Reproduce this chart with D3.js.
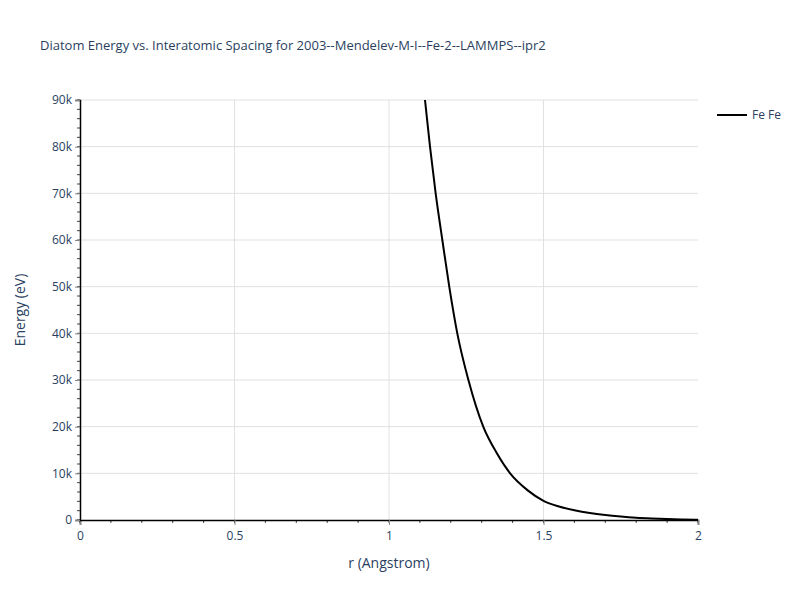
<!DOCTYPE html>
<html>
<head>
<meta charset="utf-8">
<script src="https://cdn.jsdelivr.net/npm/d3@7"></script>
<style>
  body { margin: 0; background: #fff; }
  svg { font-family: "Open Sans", verdana, arial, sans-serif; }
</style>
</head>
<body>
<svg id="main-svg" width="800" height="600"></svg>
<script>
// ----- //
// data
// ----- //
const rValues = [1.10, 1.1165, 1.1327, 1.151, 1.1726, 1.195, 1.221, 1.257, 1.305, 1.35, 1.392, 1.45, 1.50, 1.55, 1.60, 1.65, 1.70, 1.75, 1.80, 1.85, 1.90, 1.95, 2.00];
const energyValues = [100000, 90000, 80000, 70000, 60000, 50000, 40000, 30000, 20000, 14200, 10000, 6300, 4100, 2900, 2100, 1500, 1070, 750, 500, 330, 200, 120, 60];
const xTicks = [0, 0.5, 1, 1.5, 2];
const yTicks = [0, 10000, 20000, 30000, 40000, 50000, 60000, 70000, 80000, 90000];
const seriesName = "Fe Fe";
const chartTitle = "Diatom Energy vs. Interatomic Spacing for 2003--Mendelev-M-I--Fe-2--LAMMPS--ipr2";

// ----- //
// layout
// ----- //
const margin = { left: 80, top: 100, right: 102, bottom: 80 };
const width = 800 - margin.left - margin.right;   // 618
const height = 600 - margin.top - margin.bottom;  // 420
const textColor = "#2a3f5f";
const gridColor = "#e1e1e1";

const svg = d3.select("#main-svg");

const x = d3.scaleLinear().domain([0, 2]).range([0, width]);
const y = d3.scaleLinear().domain([0, 90000]).range([height, 0]);

const g = svg.append("g").attr("transform", `translate(${margin.left},${margin.top})`);

// grid lines
g.append("g").selectAll("line")
    .data(xTicks.filter(d => d > 0 && d < 2))
    .enter().append("line")
    .attr("x1", d => x(d)).attr("x2", d => x(d))
    .attr("y1", 0).attr("y2", height)
    .attr("stroke", gridColor).attr("stroke-width", 1);

g.append("g").selectAll("line")
    .data(yTicks.filter(d => d > 0))
    .enter().append("line")
    .attr("x1", 0).attr("x2", width)
    .attr("y1", d => y(d)).attr("y2", d => y(d))
    .attr("stroke", gridColor).attr("stroke-width", 1);

// clip for the curve
svg.append("defs").append("clipPath").attr("id", "plot-clip")
    .append("rect").attr("width", width).attr("height", height);

const line = d3.line()
    .x((d, i) => x(rValues[i]))
    .y(d => y(d))
    .curve(d3.curveMonotoneX);

g.append("path")
    .datum(energyValues)
    .attr("clip-path", "url(#plot-clip)")
    .attr("fill", "none")
    .attr("stroke", "#000")
    .attr("stroke-width", 2)
    .attr("stroke-linejoin", "round")
    .attr("d", line);

// minor ticks
g.append("g").selectAll("line")
    .data(d3.range(0, 2.0001, 0.1))
    .enter().append("line")
    .attr("x1", d => x(d)).attr("x2", d => x(d))
    .attr("y1", height).attr("y2", height + 3)
    .attr("stroke", "#444");

g.append("g").selectAll("line")
    .data(d3.range(0, 90001, 2000))
    .enter().append("line")
    .attr("x1", -3).attr("x2", 0)
    .attr("y1", d => y(d)).attr("y2", d => y(d))
    .attr("stroke", "#444");

// axes
const xAxis = g.append("g")
    .attr("transform", `translate(0,${height})`)
    .call(d3.axisBottom(x).tickValues(xTicks).tickSize(5).tickPadding(6)
        .tickFormat(d => d3.format("~g")(d)));

const yAxis = g.append("g")
    .call(d3.axisLeft(y).tickValues(yTicks).tickSize(5).tickPadding(3)
        .tickFormat(d => d === 0 ? "0" : (d / 1000) + "k"));

[xAxis, yAxis].forEach(ax => {
    ax.select(".domain").attr("stroke", "#000").attr("stroke-width", 1.5);
    ax.selectAll(".tick line").attr("stroke", "#888");
    ax.selectAll(".tick text")
        .attr("fill", textColor)
        .style("font-size", "12px")
        .style("font-family", "\"Open Sans\", verdana, arial, sans-serif");
});

// title
svg.append("text")
    .attr("x", 40).attr("y", 50)
    .attr("fill", textColor)
    .style("font-size", "13px")
    .text(chartTitle);

// axis titles
svg.append("text")
    .attr("x", margin.left + width / 2).attr("y", 568)
    .attr("text-anchor", "middle")
    .attr("fill", textColor)
    .style("font-size", "14px")
    .text("r (Angstrom)");

svg.append("text")
    .attr("transform", `translate(25,${margin.top + height / 2}) rotate(-90)`)
    .attr("text-anchor", "middle")
    .attr("fill", textColor)
    .style("font-size", "14px")
    .text("Energy (eV)");

// legend
const legend = svg.append("g").attr("transform", "translate(717,115)");
legend.append("line")
    .attr("x1", 0).attr("x2", 30)
    .attr("stroke", "#000").attr("stroke-width", 2);
legend.append("text")
    .attr("x", 35).attr("y", 4)
    .attr("fill", textColor)
    .style("font-size", "12px")
    .text(seriesName);
</script>
</body>
</html>
